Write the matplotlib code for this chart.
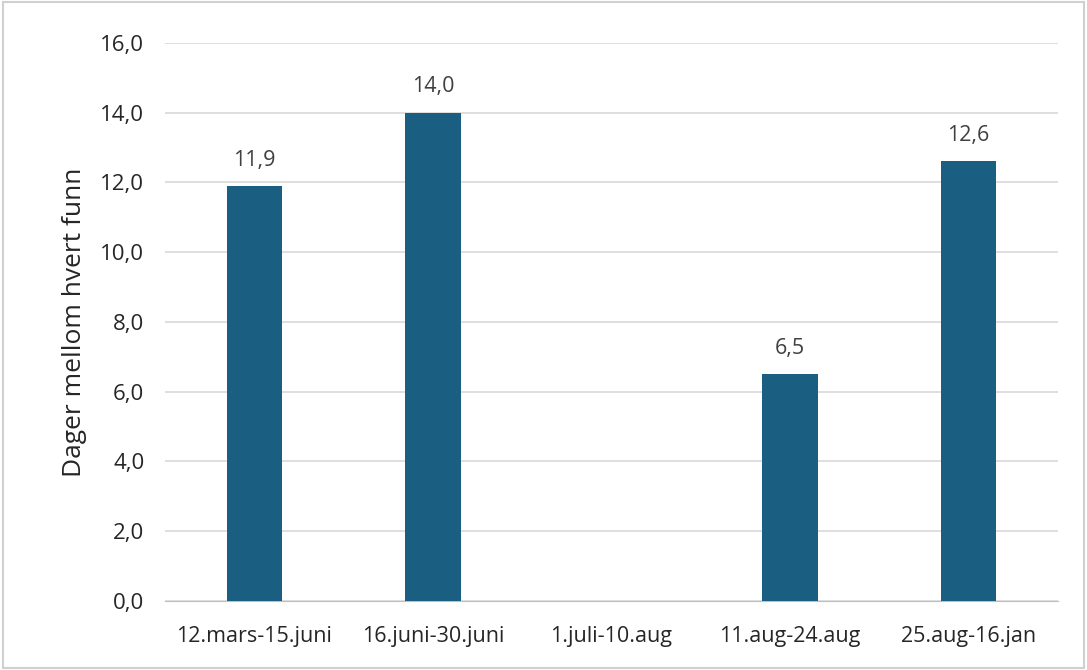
import matplotlib.pyplot as plt

categories = ['12.mars-15.juni', '16.juni-30.juni', '1.juli-10.aug', '11.aug-24.aug', '25.aug-16.jan']
values = [11.9, 14.0, None, 6.5, 12.6]
yticks = [0, 2, 4, 6, 8, 10, 12, 14, 16]

plt.rcParams['font.family'] = ['Open Sans', 'DejaVu Sans']

fig = plt.figure(figsize=(10.87, 6.70), dpi=100)
ax = fig.add_axes([0.152, 0.103, 0.821, 0.833])

x = list(range(len(categories)))
heights = [v if v is not None else 0 for v in values]
bars = ax.bar(x, heights, width=0.31, color='#1a5e82', zorder=3)
for xi, v in zip(x, values):
    if v is not None:
        ax.annotate(f'{v:.1f}'.replace('.', ','), (xi, v), xytext=(0, 11),
                    textcoords='offset points', ha='center', va='bottom',
                    fontsize=15.5, color='#404040')

ax.set_xlim(-0.5, len(categories) - 0.5)
ax.set_ylim(0, 16)
ax.set_yticks(yticks)
ax.set_yticklabels([f'{t:.1f}'.replace('.', ',') for t in yticks], fontsize=16, color='#262626')
ax.set_xticks(x)
ax.set_xticklabels(categories, fontsize=15.5, color='#262626')
ax.tick_params(axis='y', length=0, pad=15)
ax.tick_params(axis='x', length=0, pad=18)
ax.yaxis.grid(True, color='#d9d9d9', linewidth=1.2, zorder=0)
for s in ['top', 'right', 'left']:
    ax.spines[s].set_visible(False)
ax.spines['bottom'].set_color('#bfbfbf')
ax.set_ylabel('Dager mellom hvert funn', fontsize=19, color='#262626', labelpad=10)

fig.patches.append(plt.Rectangle((0.003, 0.003), 0.994, 0.994, transform=fig.transFigure,
                                 fill=False, edgecolor='#d0d0d0', linewidth=1.5))
fig.savefig('out.png', dpi=100)
